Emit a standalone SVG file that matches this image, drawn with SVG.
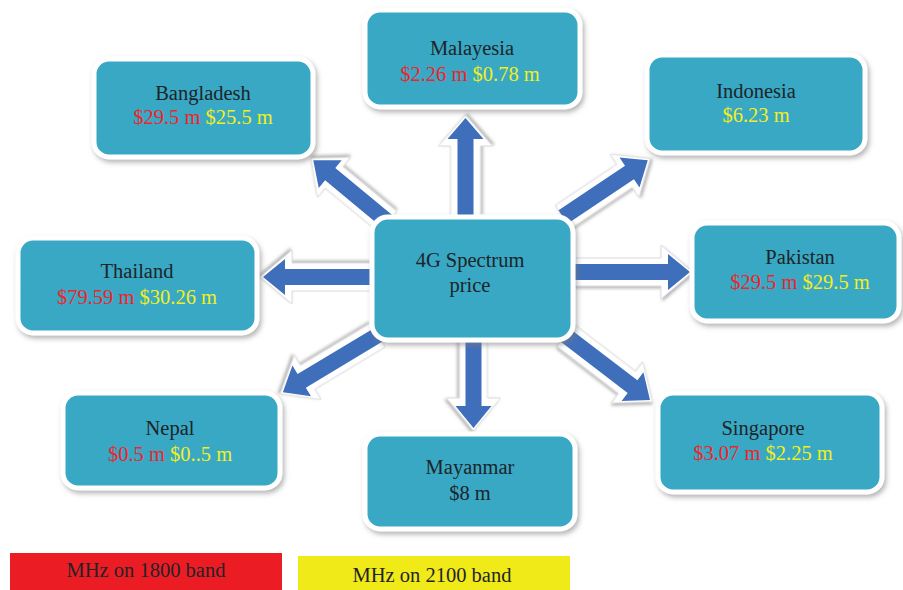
<svg xmlns="http://www.w3.org/2000/svg" width="903" height="590" viewBox="0 0 903 590">
<defs>
<filter id="sh" x="-20%" y="-20%" width="140%" height="140%">
<feDropShadow dx="2" dy="3" stdDeviation="2.5" flood-color="#7a7a7a" flood-opacity="0.55"/>
</filter>
<filter id="ash" x="-30%" y="-30%" width="160%" height="160%">
<feDropShadow dx="1.5" dy="2" stdDeviation="1.5" flood-color="#8a8a8a" flood-opacity="0.6"/>
</filter>
</defs>
<style>
.box{fill:#38a8c4;stroke:#ffffff;stroke-width:5;filter:url(#sh)}
.aw{fill:#ffffff;stroke:#dcdcdc;stroke-width:1;filter:url(#ash)}
.ab{fill:#3f6fbb}
text{font-family:"Liberation Serif","Times New Roman",serif;font-size:20.5px;text-anchor:middle}
.t{fill:#1e2428}
.r{fill:#f2232b}
.y{fill:#f3ee1e}
</style>
<rect width="903" height="590" fill="#ffffff"/>
<g id="connectors">
<g transform="translate(465.5,216) rotate(-90)"><path class="aw" d="M0,-15 L70,-15 L70,-27 L101,0 L70,27 L70,15 L0,15 Z"/><path class="ab" d="M0,-8 L77,-8 L77,-18 L98,0 L77,18 L77,8 L0,8 Z"/></g>
<g transform="translate(388,222) rotate(-140.4)"><path class="aw" d="M0,-14 L70,-14 L70,-26 L100,0 L70,26 L70,14 L0,14 Z"/><path class="ab" d="M0,-8 L75,-8 L75,-18 L97,0 L75,18 L75,8 L0,8 Z"/></g>
<g transform="translate(563,217) rotate(-33.8)"><path class="aw" d="M0,-14 L74,-14 L74,-26 L105,0 L74,26 L74,14 L0,14 Z"/><path class="ab" d="M0,-8 L80,-8 L80,-18 L102,0 L80,18 L80,8 L0,8 Z"/></g>
<g transform="translate(372,277) rotate(180)"><path class="aw" d="M0,-14 L80,-14 L80,-27 L112,0 L80,27 L80,14 L0,14 Z"/><path class="ab" d="M0,-8 L87,-8 L87,-18 L109,0 L87,18 L87,8 L0,8 Z"/></g>
<g transform="translate(573,272)"><path class="aw" d="M0,-14 L88,-14 L88,-27 L120,0 L88,27 L88,14 L0,14 Z"/><path class="ab" d="M0,-8 L95,-8 L95,-18 L117,0 L95,18 L95,8 L0,8 Z"/></g>
<g transform="translate(378,335) rotate(149)"><path class="aw" d="M0,-14 L82,-14 L82,-26 L114,0 L82,26 L82,14 L0,14 Z"/><path class="ab" d="M0,-8 L89,-8 L89,-18 L111,0 L89,18 L89,8 L0,8 Z"/></g>
<g transform="translate(473.5,338) rotate(90)"><path class="aw" d="M0,-14 L60,-14 L60,-27 L93,0 L60,27 L60,14 L0,14 Z"/><path class="ab" d="M0,-8 L68,-8 L68,-18 L90,0 L68,18 L68,8 L0,8 Z"/></g>
<g transform="translate(565,335) rotate(37.4)"><path class="aw" d="M0,-14 L78,-14 L78,-26 L110,0 L78,26 L78,14 L0,14 Z"/><path class="ab" d="M0,-8 L85,-8 L85,-18 L107,0 L85,18 L85,8 L0,8 Z"/></g>
</g>
<g id="center">
<rect class="box" x="372" y="217" width="201" height="123" rx="16"/>
<text class="t" x="470" y="267">4G Spectrum</text>
<text class="t" x="470" y="292">price</text>
</g>
<g id="malaysia">
<rect class="box" x="365" y="10" width="215" height="97" rx="15"/>
<text class="t" x="472" y="55">Malayesia</text>
<text x="470" y="81"><tspan class="r">$2.26 m</tspan> <tspan class="y">$0.78 m</tspan></text>
</g>
<g id="bangladesh">
<rect class="box" x="94" y="59" width="219" height="98" rx="15"/>
<text class="t" x="203" y="100">Bangladesh</text>
<text x="203" y="124"><tspan class="r">$29.5 m</tspan> <tspan class="y">$25.5 m</tspan></text>
</g>
<g id="indonesia">
<rect class="box" x="647" y="55" width="218" height="98" rx="15"/>
<text class="t" x="756" y="98">Indonesia</text>
<text class="y" x="756" y="122">$6.23 m</text>
</g>
<g id="thailand">
<rect class="box" x="18" y="238" width="239" height="95" rx="15"/>
<text class="t" x="137" y="278">Thailand</text>
<text x="137" y="304"><tspan class="r">$79.59 m</tspan> <tspan class="y">$30.26 m</tspan></text>
</g>
<g id="pakistan">
<rect class="box" x="692" y="223" width="207" height="98" rx="15"/>
<text class="t" x="800" y="264">Pakistan</text>
<text x="800" y="289"><tspan class="r">$29.5 m</tspan> <tspan class="y">$29.5 m</tspan></text>
</g>
<g id="nepal">
<rect class="box" x="63" y="393" width="217" height="95" rx="15"/>
<text class="t" x="170" y="435">Nepal</text>
<text x="170" y="461"><tspan class="r">$0.5 m</tspan> <tspan class="y">$0..5 m</tspan></text>
</g>
<g id="mayanmar">
<rect class="box" x="365" y="434" width="210" height="95" rx="15"/>
<text class="t" x="470" y="474">Mayanmar</text>
<text class="t" x="470" y="500">$8 m</text>
</g>
<g id="singapore">
<rect class="box" x="658" y="393" width="224" height="99" rx="15"/>
<text class="t" x="763" y="435">Singapore</text>
<text x="763" y="460"><tspan class="r">$3.07 m</tspan> <tspan class="y">$2.25 m</tspan></text>
</g>
<g id="legend">
<rect x="10" y="553" width="272" height="37" fill="#ec1c24"/>
<text class="t" x="146" y="577">MHz on 1800 band</text>
<rect x="298" y="556" width="272" height="34" fill="#f1ea19"/>
<text class="t" x="432" y="582">MHz on 2100 band</text>
</g>
</svg>
